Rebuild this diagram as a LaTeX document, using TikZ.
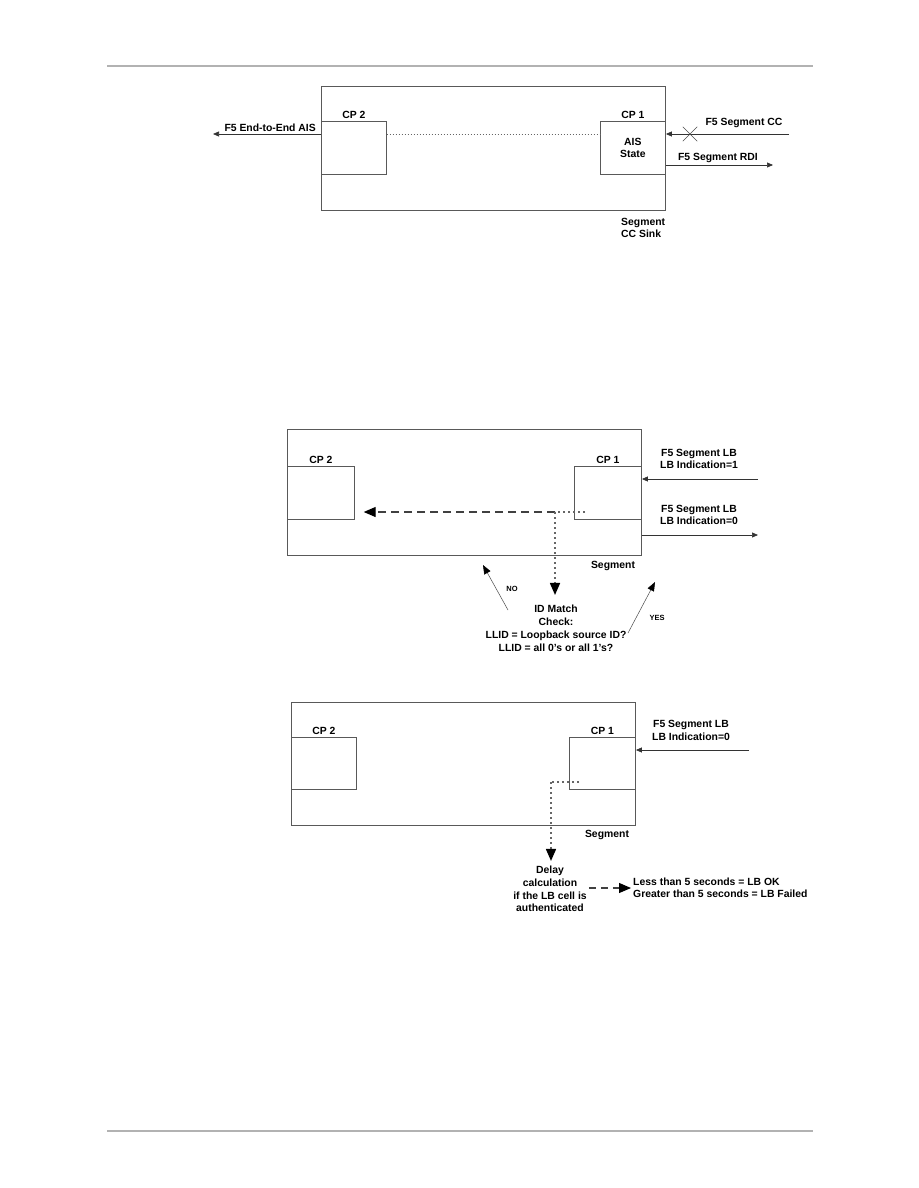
\documentclass[tikz,border=0pt]{standalone}
\usepackage{fontspec}
\setmainfont{Liberation Sans}
\usetikzlibrary{arrows.meta, positioning, shapes.misc}

\begin{document}
\begin{tikzpicture}[
    x=1pt, y=-1pt,
    font=\fontsize{10.4}{12}\selectfont\bfseries,
    segbox/.style={
        rectangle, draw=black!65, line width=0.9pt,
        inner sep=0pt, anchor=north west
    },
    cpbox/.style={
        rectangle, draw=black!65, line width=0.7pt,
        inner sep=0pt, anchor=north west, minimum height=53pt
    },
    lbl/.style={inner sep=2pt, align=center},
    tiny/.style={inner sep=1pt, font=\fontsize{7.5}{8}\selectfont\bfseries},
    arr/.style={-{Triangle[length=6pt,width=5pt]}, line width=0.7pt, draw=black!80},
    thinarr/.style={-{Triangle[length=9pt,width=7pt,color=black]}, line width=0.5pt, draw=black!70},
    thindot/.style={line width=0.6pt, dash pattern=on 1pt off 2pt, draw=black!60},
    bigdot/.style={line width=1.6pt, dash pattern=on 1.6pt off 3.4pt, draw=black!60},
    bigdash/.style={line width=1.2pt, dash pattern=on 8pt off 5pt, draw=black!75},
    bigtip/.style={-{Triangle[length=12pt,width=10pt,color=black]}},
    rule/.style={line width=1.2pt, draw=black!30},
]
\useasboundingbox (0,0) rectangle (918,1188);

%% Page rules
\draw[rule] (107,66) -- (813,66);
\draw[rule] (107,1131) -- (813,1131);

%% Diagram 1: segment CC sink
\node[segbox, minimum width=344pt, minimum height=124pt] (sinkbox) at (321,86) {};
\node[cpbox, minimum width=65pt] (cp2a) at (321,121) {};
\node[cpbox, minimum width=65pt, align=center] (cp1a) at (600,121) {AIS\\State};
\node[lbl, above=0pt of cp2a] (cp2alabel) {CP 2};
\node[lbl, above=0pt of cp1a] (cp1alabel) {CP 1};

\coordinate (aisend) at (213,134);
\coordinate (ccstart) at (789,134);
\coordinate (rdiend) at (773,165);

\draw[arr] (cp2a.west |- aisend) -- (aisend);
\node[lbl, anchor=south east, xshift=-3pt] (aislabel) at (cp2a.west |- aisend) {F5 End-to-End AIS};
\draw[thindot] (cp2a.east |- aisend) -- (cp1a.west |- aisend);

\draw[arr] (ccstart) -- (sinkbox.east |- ccstart);
\node[cross out, draw=black!70, line width=0.5pt, minimum size=14pt, inner sep=0pt] (ccbreak) at (690,134) {};
\node[lbl] (cclabel) at (744,123) {F5 Segment CC};
\draw[arr] (sinkbox.east |- rdiend) -- (rdiend);
\node[lbl] (rdilabel) at (718,158) {F5 Segment RDI};
\node[lbl, align=left, anchor=north west, inner sep=0pt] (sinklabel) at (621,218) {Segment\\CC Sink};

%% Diagram 2: loopback with ID match
\node[segbox, minimum width=354pt, minimum height=126pt] (lbbox) at (287,429) {};
\node[cpbox, minimum width=67pt] (cp2b) at (287,466) {};
\node[cpbox, minimum width=67pt] (cp1b) at (574,466) {};
\node[lbl, above=0pt of cp2b] (cp2blabel) {CP 2};
\node[lbl, above=0pt of cp1b] (cp1blabel) {CP 1};

\coordinate (lbloop) at (585,512);
\coordinate (lbturn) at (555,512);
\draw[bigdot] (lbloop) -- (lbturn);
\draw[bigdash, bigtip, shorten >=9pt] (lbturn) -- (cp2b.east |- lbturn);

\node[lbl, font=\fontsize{10.4}{13}\selectfont\bfseries] (idcheck) at (556,628.5)
    {ID Match\\Check:\\LLID = Loopback source ID?\\LLID = all 0's or all 1's?};
\draw[bigdot, bigtip, shorten >=8pt] (lbturn) -- (idcheck.north -| lbturn);

\coordinate (lbin) at (758,479);
\coordinate (lbout) at (758,535);
\draw[arr] (lbin) -- (lbbox.east |- lbin);
\node[lbl] (lbinlabel) at (699,459) {F5 Segment LB\\LB Indication=1};
\draw[arr] (lbbox.east |- lbout) -- (lbout);
\node[lbl] (lboutlabel) at (699,515) {F5 Segment LB\\LB Indication=0};
\node[lbl] (lbseg) at (613,566) {Segment};

\coordinate (nobase) at (508,610);
\coordinate (notip) at (483,565);
\draw[thinarr] (nobase) -- (notip);
\node[tiny] (nolabel) at (512,589) {NO};
\coordinate (yesbase) at (628,633);
\coordinate (yestip) at (655,582);
\draw[thinarr] (yesbase) -- (yestip);
\node[tiny] (yeslabel) at (657,618) {YES};

%% Diagram 3: loopback delay
\node[segbox, minimum width=344pt, minimum height=123pt] (dlybox) at (291,702) {};
\node[cpbox, minimum width=65pt, minimum height=52pt] (cp2c) at (291,737) {};
\node[cpbox, minimum width=66pt, minimum height=52pt] (cp1c) at (569,737) {};
\node[lbl, above=0pt of cp2c] (cp2clabel) {CP 2};
\node[lbl, above=0pt of cp1c] (cp1clabel) {CP 1};

\coordinate (dlyin) at (749,750);
\draw[arr] (dlyin) -- (dlybox.east |- dlyin);
\node[lbl, font=\fontsize{10.4}{13}\selectfont\bfseries] (dlyinlabel) at (691,730.5) {F5 Segment LB\\LB Indication=0};
\node[lbl] (dlyseg) at (607,835) {Segment};

\coordinate (dlyloop) at (579,782);
\coordinate (dlyturn) at (551,782);
\draw[bigdot] (dlyloop) -- (dlyturn);

\node[lbl, font=\fontsize{10.4}{12.7}\selectfont\bfseries] (delay) at (550,889)
    {Delay\\calculation\\if the LB cell is\\authenticated};
\draw[bigdot, bigtip, shorten >=3pt] (dlyturn) -- (delay.north -| dlyturn);

\node[lbl, align=left, anchor=west] (result) at (631,888)
    {Less than 5 seconds = LB OK\\Greater than 5 seconds = LB Failed};
\draw[bigdash, dash pattern=on 7pt off 5pt, bigtip] (delay.east |- result.west) -- (result.west);

\end{tikzpicture}
\end{document}
